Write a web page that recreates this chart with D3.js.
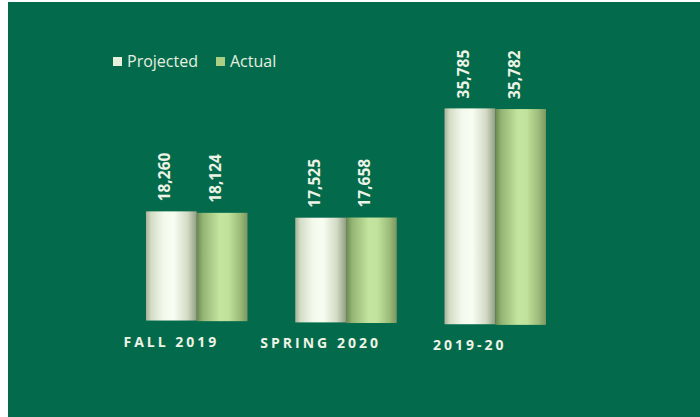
<!DOCTYPE html>
<html>
<head>
<meta charset="utf-8">
<script src="https://cdn.jsdelivr.net/npm/d3@7"></script>
<style>
  html, body { margin: 0; padding: 0; background: #ffffff; }
  svg { display: block; }
</style>
</head>
<body>
<svg id="chart" width="700" height="417"></svg>
<script>
const categories = ["FALL 2019", "SPRING 2020", "2019-20"];
const seriesNames = ["Projected", "Actual"];
const projected = [18260, 17525, 35785];
const actual = [18124, 17658, 35782];

const W = 700, H = 417;
const svg = d3.select("#chart");

svg.append("rect").attr("x", 8).attr("y", 2).attr("width", W - 8).attr("height", H - 2).attr("fill", "#036b4b");

const defs = svg.append("defs");
function grad(id, stops) {
  const g = defs.append("linearGradient").attr("id", id).attr("x1", "0%").attr("x2", "100%").attr("y1", "0%").attr("y2", "0%");
  stops.forEach(s => g.append("stop").attr("offset", s[0]).attr("stop-color", s[1]));
}
grad("gProj", [["0%", "#a7b298"], ["10%", "#d3dcc6"], ["35%", "#f3faec"], ["55%", "#f8fdf2"], ["82%", "#d2dac4"], ["100%", "#939d84"]]);
grad("gAct", [["0%", "#6a8650"], ["12%", "#93b574"], ["45%", "#c3e59f"], ["62%", "#c0e29b"], ["85%", "#9cbd7b"], ["100%", "#7c9660"]]);

const x0 = d3.scaleBand().domain(categories).range([146, 546]).paddingInner(0.32).paddingOuter(0);
const x1 = d3.scaleBand().domain(seriesNames).range([0, x0.bandwidth()]).padding(0);
const h = d3.scaleLinear().domain([0, 40000]).range([-2, 241.5]);
const baseY = d3.scaleLinear().domain([0, 700]).range([318.4, 327.1]);

const fills = { "Projected": "url(#gProj)", "Actual": "url(#gAct)" };
const data = categories.map((c, i) => ({ cat: c, vals: [ { s: "Projected", v: projected[i] }, { s: "Actual", v: actual[i] } ] }));

const groups = svg.selectAll("g.grp").data(data).enter().append("g").attr("class", "grp");

groups.each(function(d) {
  const g = d3.select(this);
  d.vals.forEach(b => {
    const bx = x0(d.cat) + x1(b.s);
    const bw = x1.bandwidth();
    const cx = bx + bw / 2;
    const by = baseY(cx);
    const top = by - h(b.v);
    g.append("rect").attr("x", bx).attr("y", top).attr("width", bw).attr("height", by - top).attr("fill", fills[b.s]);
    g.append("text")
      .attr("transform", `translate(${cx - 1},${top - 10}) rotate(-90)`)
      .attr("text-anchor", "start")
      .attr("font-family", "'Open Sans', sans-serif")
      .attr("font-weight", "bold")
      .attr("font-size", 15.5)
      .attr("fill", "#eef3e6")
      .text(d3.format(",")(b.v));
  });
  const pcx = x0(d.cat) + x1("Projected") + x1.bandwidth() / 2;
  g.append("text")
    .attr("x", pcx)
    .attr("y", baseY(pcx) + 26)
    .attr("text-anchor", "middle")
    .attr("font-family", "'Open Sans', sans-serif")
    .attr("font-weight", "bold")
    .attr("font-size", 14)
    .attr("letter-spacing", "3px")
    .attr("fill", "#eef3e6")
    .text(d.cat);
});

const legendX = [113, 216];
const legendColors = { "Projected": "#e6f0dc", "Actual": "#a9cf85" };
seriesNames.forEach((s, i) => {
  svg.append("rect").attr("x", legendX[i]).attr("y", 57).attr("width", 9).attr("height", 9).attr("fill", legendColors[s]);
  svg.append("text")
    .attr("x", legendX[i] + 14)
    .attr("y", 67)
    .attr("font-family", "'Open Sans', sans-serif")
    .attr("font-size", 16)
    .attr("fill", "#e8efe0")
    .text(s);
});
</script>
</body>
</html>
